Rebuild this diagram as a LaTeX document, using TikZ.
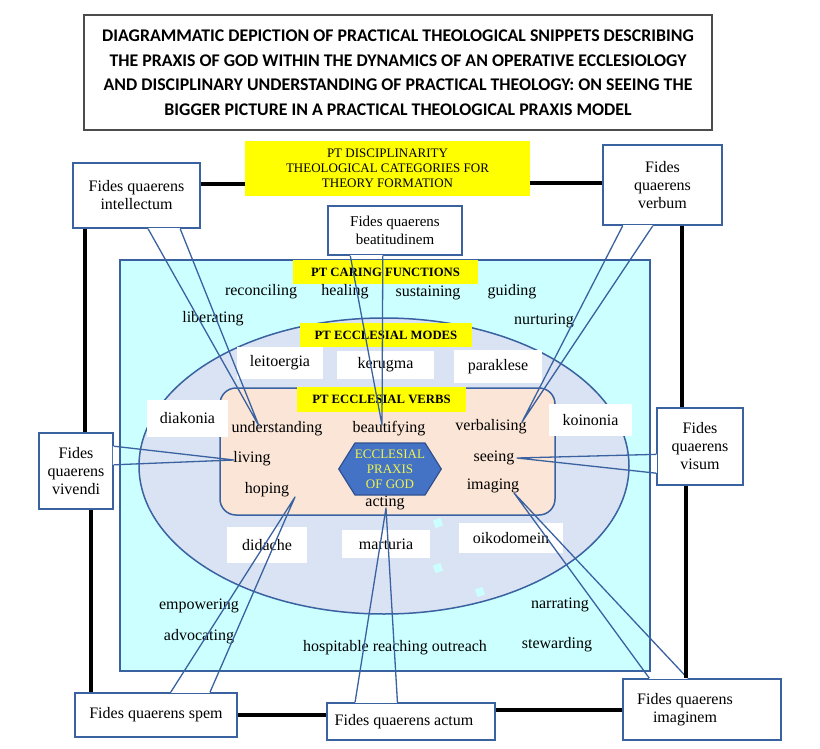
\documentclass[tikz,border=0pt]{standalone}
\usepackage{fontspec}
\setmainfont{Liberation Serif}
\newfontfamily\titlefont{Carlito}
\usetikzlibrary{calc,shapes.symbols}
\definecolor{bblue}{HTML}{3A62A0}
\definecolor{cyanbg}{HTML}{CCFFFF}
\definecolor{lav}{HTML}{DAE3F3}
\definecolor{peach}{HTML}{FBE5D6}
\definecolor{hexblue}{HTML}{4472C4}
\definecolor{hexedge}{HTML}{2F528F}
\definecolor{hextext}{HTML}{F0F54A}
\definecolor{ylw}{HTML}{FFFF00}
\newcommand\fs{\fontsize{16}{18}\selectfont}
\newcommand\fqptr[6]{%
  \coordinate (p1) at ($(#1.#2)!#4!(#1.#3)$);
  \coordinate (p2) at ($(#1.#2)!#5!(#1.#3)$);
  \draw[gapline] (p1) -- (p2);
  \draw[wl] (p1) -- (#6) -- (p2);}
\tikzset{
  region/.style={draw=bblue, line width=1.5pt},
  wlab/.style={fill=white, inner sep=0pt, font=\fs},
  ylab/.style={fill=ylw, inner sep=0pt, font=\fontsize{12.7}{14}\selectfont\bfseries},
  word/.style={inner sep=1pt, font=\fs},
  fq/.style={draw=bblue, line width=1.5pt, fill=white, inner sep=2pt, align=center, font=\fs},
  wl/.style={draw=bblue, line width=1.3pt, line join=round},
  gapline/.style={draw=white, line width=1.7pt},
  frame/.style={draw=black, line width=3.5pt},
  sq/.style={fill=cyanbg, inner sep=0pt, minimum size=8pt, rotate=20}
}
\begin{document}
\begin{tikzpicture}[x=1pt,y=-1pt]
\useasboundingbox (0,0) rectangle (820,749);
\fill[white] (0,0) rectangle (820,749);

% title
\node[draw=black!70, line width=1.5pt, minimum width=628pt, minimum height=115pt,
  inner sep=0pt, align=center, font=\titlefont\bfseries\fontsize{17.8}{24.5}\selectfont] (title) at (398,72.5)
 {DIAGRAMMATIC DEPICTION OF PRACTICAL THEOLOGICAL SNIPPETS DESCRIBING\\
  THE PRAXIS OF GOD WITHIN THE DYNAMICS OF AN OPERATIVE ECCLESIOLOGY\\
  AND DISCIPLINARY UNDERSTANDING OF PRACTICAL THEOLOGY: ON SEEING THE\\
  BIGGER PICTURE IN A PRACTICAL THEOLOGICAL PRAXIS MODEL};

% regions
\node[region, fill=cyanbg, minimum width=530pt, minimum height=411pt, inner sep=0pt] (cyanbox) at (385,465.5) {};
\draw[region, fill=lav] (384,466) ellipse [x radius=245pt, y radius=148pt];
\node[region, fill=peach, rounded corners=16pt, minimum width=335pt, minimum height=127pt, inner sep=0pt] (verbbox) at (387.5,451.5) {};

% small squares
\node[sq] (sq1) at (438,523) {};
\node[sq] (sq2) at (438,568) {};
\node[sq] (sq3) at (480,592) {};

% white mode labels
\node[wlab, minimum width=86pt, minimum height=32pt] (leit) at (280,363) {leitoergia};
\node[wlab, minimum width=97pt, minimum height=28pt] (keru) at (385.5,365) {kerugma};
\node[wlab, minimum width=88pt, minimum height=33pt] (para) at (498,366.5) {paraklese};
\node[wlab, minimum width=81pt, minimum height=37pt] (diak) at (187.5,418.5) {diakonia};
\node[wlab, minimum width=83pt, minimum height=32pt] (koin) at (590.5,420) {koinonia};
\node[wlab, minimum width=80pt, minimum height=36pt] (dida) at (267,545) {didache};
\node[wlab, minimum width=88pt, minimum height=28pt] (mart) at (386,544) {marturia};
\node[wlab, minimum width=104pt, minimum height=30pt] (oiko) at (511,538) {oikodomein};

% yellow labels
\node[ylab, font=\fontsize{13}{15}\selectfont, align=center, minimum width=285pt, minimum height=55pt] (disc) at (387.5,168.5)
 {PT DISCIPLINARITY\\THEOLOGICAL CATEGORIES FOR\\THEORY FORMATION};
\node[ylab, minimum width=185pt, minimum height=24pt] (caring) at (385.5,272) {PT CARING FUNCTIONS};
\node[ylab, minimum width=172pt, minimum height=24pt] (modes) at (386,335) {PT ECCLESIAL MODES};
\node[ylab, minimum width=169pt, minimum height=25pt] (verbs) at (381.5,399.5) {PT ECCLESIAL VERBS};

% caring functions
\node[word] (reco) at (261,292) {reconciling};
\node[word] (heal) at (345,292) {healing};
\node[word] (sust) at (428,293) {sustaining};
\node[word] (guid) at (512,292) {guiding};
\node[word] (libe) at (213,319) {liberating};
\node[word] (nurt) at (544,321) {nurturing};
\node[word] (empo) at (199,606) {empowering};
\node[word] (advo) at (199,637) {advocating};
\node[word] (hosp) at (395,648) {hospitable reaching outreach};
\node[word] (narr) at (560,605) {narrating};
\node[word] (stew) at (557,645) {stewarding};

% ecclesial verbs
\node[word] (unde) at (277,429) {understanding};
\node[word] (beau) at (389,429) {beautifying};
\node[word] (verb) at (491,427) {verbalising};
\node[word] (livi) at (252,459) {living};
\node[word] (seei) at (494,458) {seeing};
\node[word] (hopi) at (267,490) {hoping};
\node[word] (imag) at (493,486) {imaging};
\node[word] (acti) at (385,503) {acting};

% hexagon
\node[signal, signal to=west and east, signal pointer angle=116, draw=hexedge, line width=1.2pt,
  fill=hexblue, minimum width=100pt, minimum height=52pt, inner sep=0pt, align=center,
  text=hextext, font=\fontsize{13}{15}\selectfont] (hex) at (390,469) {ECCLESIAL\\PRAXIS\\OF GOD};

% callout targets
\coordinate (tI) at (259,426);
\coordinate (tB) at (382,425);
\coordinate (tVb) at (522,422);
\coordinate (tVi) at (234,460);
\coordinate (tVs) at (517,458);
\coordinate (tS) at (295,497);
\coordinate (tA) at (386,508);
\coordinate (tIm) at (514,493);

% callout boxes
\node[fq, minimum width=127pt, minimum height=65pt] (fqI) at (136.5,195.5) {Fides quaerens\\intellectum};
\node[fq, minimum width=134pt, minimum height=49pt, font=\fontsize{15}{18}\selectfont] (fqB) at (395,230.5) {Fides quaerens\\beatitudinem};
\node[fq, minimum width=119pt, minimum height=80pt] (fqVb) at (662.5,185) {Fides\\quaerens\\verbum};
\node[fq, minimum width=74pt, minimum height=76pt] (fqVi) at (76,471) {Fides\\quaerens\\vivendi};
\node[fq, minimum width=86pt, minimum height=77pt] (fqVs) at (700,446.5) {Fides\\quaerens\\visum};
\node[fq, minimum width=162pt, minimum height=44pt] (fqS) at (156,715) {Fides quaerens spem};
\node[fq, minimum width=168pt, minimum height=37pt] (fqA) at (411,721.5) {Fides quaerens actum\hspace{14pt}\mbox{}};
\node[fq, minimum width=158pt, minimum height=61pt] (fqIm) at (702,709.5) {Fides quaerens\hspace{34pt}\mbox{}\\imaginem\hspace{34pt}\mbox{}};

% callout pointers
\fqptr{fqI}{south west}{south east}{0.59}{0.84}{tI}
\fqptr{fqB}{south west}{south east}{0.17}{0.41}{tB}
\fqptr{fqVb}{south west}{south east}{0.17}{0.42}{tVb}
\fqptr{fqVi}{north east}{south east}{0.18}{0.42}{tVi}
\fqptr{fqVs}{north west}{south west}{0.6}{0.84}{tVs}
\fqptr{fqS}{north west}{north east}{0.59}{0.83}{tS}
\fqptr{fqA}{north west}{north east}{0.17}{0.42}{tA}
\fqptr{fqIm}{north west}{north east}{0.17}{0.41}{tIm}

% frame
\coordinate (ft1) at ([yshift=11.5pt]fqI.east);
\draw[frame] (ft1) -- (ft1 -| disc.west);
\coordinate (ft2) at ([yshift=-14.5pt]disc.east);
\draw[frame] (ft2) -- (ft2 -| fqVb.west);
\coordinate (fl1) at ($(fqI.south west)!0.1!(fqI.south east)$);
\draw[frame] (fl1) -- (fl1 |- fqVi.north);
\coordinate (fl2) at ($(fqVi.south west)!0.7!(fqVi.south east)$);
\draw[frame] (fl2) -- (fl2 |- fqS.north);
\coordinate (fr1) at ($(fqVb.south west)!0.66!(fqVb.south east)$);
\draw[frame] (fr1) -- (fr1 |- fqVs.north);
\coordinate (fr2) at ($(fqVs.south west)!0.34!(fqVs.south east)$);
\draw[frame] (fr2) -- (fr2 |- fqIm.north);
\draw[frame] (fqS.east) -- (fqS.east -| fqA.west);
\coordinate (fb2) at ([yshift=11.5pt]fqA.east);
\draw[frame] (fb2) -- (fb2 -| fqIm.west);
\end{tikzpicture}
\end{document}
